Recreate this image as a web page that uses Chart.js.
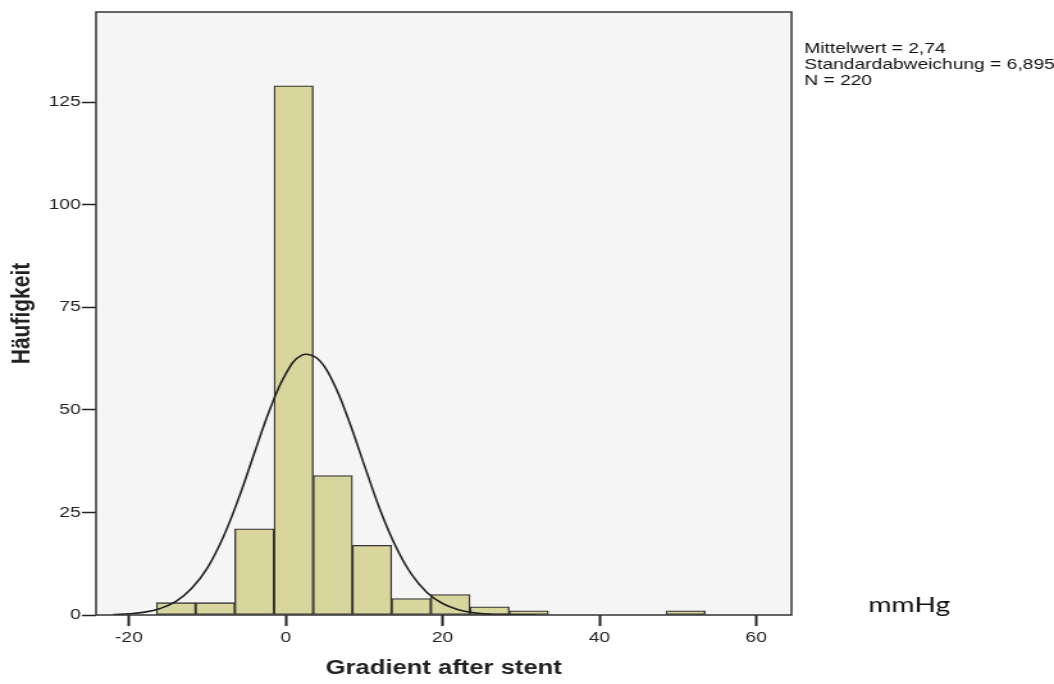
<!DOCTYPE html>
<html lang="de">
<head>
<meta charset="UTF-8">
<title>Gradient after stent</title>
<script src="https://cdn.jsdelivr.net/npm/chart.js"></script>
<style>
  body { margin: 0; background: #fff; }
</style>
</head>
<body>
<!-- the original picture is stretched sideways, so the canvas is drawn narrower and scaled up -->
<canvas id="histChart" width="823" height="684" style="display:block; width:1054px; height:684px"></canvas>
<script>
// bins are 5 mmHg wide, value = bin centre
const binCenters = [-14, -9, -4, 1, 6, 11, 16, 21, 26, 31, 51];
const binCounts = [3, 3, 21, 129, 34, 17, 4, 5, 2, 1, 1];

// normal curve
const curveX = [-22, -20, -18, -16, -14, -12, -10, -8, -6, -4, -2, 0, 2, 4, 6, 8, 10, 12, 14, 16, 18, 20, 22, 24, 26, 28, 30, 32];
const curveY = [0.1, 0.3, 0.7, 1.6, 3.3, 6.5, 11.5, 18.9, 28.5, 39.5, 50.3, 58.8, 63.3, 62.6, 56.9, 47.6, 36.6, 25.8, 16.8, 10.0, 5.5, 2.8, 1.3, 0.55, 0.2, 0.1, 0, 0];

const xTicks = [-20, 0, 20, 40, 60];
const yTicks = [0, 25, 50, 75, 100, 125];
const statLines = ['Mittelwert = 2,74', 'Standardabweichung = 6,895', 'N = 220'];

const tickFont = { family: '"Liberation Sans", Arial, sans-serif', size: 15 };

const frame = {
    id: 'frame',
    beforeDraw(chart) {
        const { ctx, chartArea: a } = chart;
        ctx.save();
        ctx.fillStyle = '#f5f5f5';
        ctx.fillRect(a.left, a.top, a.right - a.left, a.bottom - a.top);
        ctx.restore();
    },
    afterDraw(chart) {
        const { ctx, chartArea: a } = chart;
        ctx.save();
        ctx.strokeStyle = '#333';
        ctx.lineWidth = 1.5;
        ctx.strokeRect(a.left, a.top, a.right - a.left, a.bottom - a.top);

        ctx.fillStyle = '#111';
        ctx.font = '15px "Liberation Sans", Arial, sans-serif';
        statLines.forEach((t, i) => ctx.fillText(t, a.right + 10, 53 + i * 16));

        ctx.font = '22px Lato, sans-serif';
        ctx.fillText('mmHg', 678, 612);
        ctx.restore();
    }
};

new Chart(document.getElementById('histChart'), {
    type: 'bar',
    data: {
        datasets: [{
            type: 'line',
            data: curveX.map((x, i) => ({ x: x, y: curveY[i] })),
            borderColor: '#222',
            borderWidth: 1.6,
            pointRadius: 0,
            tension: 0.4,
            fill: false
        }, {
            type: 'bar',
            data: binCenters.map((x, i) => ({ x: x, y: binCounts[i] })),
            backgroundColor: '#d8d59d',
            borderColor: '#333',
            borderWidth: 1.3,
            borderSkipped: false,
            barPercentage: 1,
            categoryPercentage: 1
        }]
    },
    options: {
        responsive: false,
        animation: false,
        devicePixelRatio: 1,
        layout: { padding: { left: 0, right: 205, top: 12, bottom: 0 } },
        plugins: { legend: { display: false }, tooltip: { enabled: false } },
        scales: {
            x: {
                type: 'linear',
                offset: false,
                min: -24.2,
                max: 64.5,
                afterBuildTicks: s => { s.ticks = xTicks.map(v => ({ value: v })); },
                afterFit: s => { s.height = 69; },
                ticks: { color: '#222', font: tickFont, padding: 3, maxRotation: 0 },
                grid: { offset: false, drawOnChartArea: false, tickLength: 11, tickColor: '#222', tickWidth: 2 },
                border: { display: false },
                title: {
                    display: true,
                    text: 'Gradient after stent',
                    color: '#222',
                    font: { family: '"Liberation Sans", Arial, sans-serif', size: 20, weight: 'bold' },
                    padding: { top: 0, bottom: 4 }
                }
            },
            y: {
                min: 0,
                max: 147,
                afterBuildTicks: s => { s.ticks = yTicks.map(v => ({ value: v })); },
                afterFit: s => { s.width = 75; },
                ticks: { color: '#222', font: tickFont, padding: 1 },
                grid: { drawOnChartArea: false, tickLength: 11, tickColor: '#222', tickWidth: 1.5 },
                border: { display: false },
                title: {
                    display: true,
                    text: 'Häufigkeit',
                    color: '#222',
                    font: { family: '"Liberation Sans", Arial, sans-serif', size: 21, weight: 'bold' },
                    padding: { top: 5, bottom: 0 }
                }
            }
        }
    },
    plugins: [frame]
});
</script>
</body>
</html>
